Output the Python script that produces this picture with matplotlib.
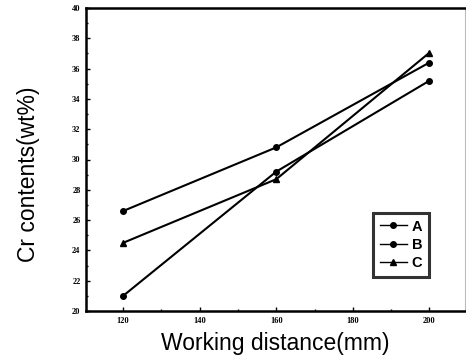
import matplotlib
matplotlib.use("Agg")
import matplotlib.pyplot as plt
from matplotlib.ticker import MultipleLocator

# values
distance = [120, 160, 200]
cr_a = [26.6, 30.8, 36.4]
cr_b = [21.0, 29.2, 35.2]
cr_c = [24.5, 28.7, 37.05]
series_names = ["A", "B", "C"]

plt.rcParams['font.family'] = ['Liberation Sans', 'DejaVu Sans']

fig = plt.figure(figsize=(4.66, 3.64), dpi=100)
ax = fig.add_axes([86/466, 1-311/364, (465-86)/466, (311-8)/364])

ax.plot(distance, cr_a, color='black', lw=1.5, marker='o', ms=4, label=series_names[0])
ax.plot(distance, cr_b, color='black', lw=1.5, marker='o', ms=4, label=series_names[1])
ax.plot(distance, cr_c, color='black', lw=1.5, marker='^', ms=4.5, label=series_names[2])

ax.set_xlim(110.3, 209.3)
ax.set_ylim(20, 40)
ax.xaxis.set_major_locator(MultipleLocator(20))
ax.xaxis.set_minor_locator(MultipleLocator(10))
ax.yaxis.set_major_locator(MultipleLocator(2))
ax.yaxis.set_minor_locator(MultipleLocator(1))
ax.tick_params(which='both', direction='in', width=1)
ax.tick_params(which='major', length=3, labelsize=6, pad=4)
ax.tick_params(which='minor', length=1.5)
for lab in ax.get_xticklabels() + ax.get_yticklabels():
    lab.set_fontweight('bold')
    lab.set_family('Liberation Serif')

for side in ['left', 'bottom', 'top']:
    ax.spines[side].set_linewidth(1.8)
ax.spines['right'].set_linewidth(0.8)
ax.spines['right'].set_color('#bbbbbb')

ax.set_xlabel('Working distance(mm)', fontsize=16.5, va='baseline')
ax.set_ylabel('Cr contents(wt%)', fontsize=16.5, va='center')
ax.xaxis.set_label_coords(0.5, -0.128)
ax.yaxis.set_label_coords(-0.153, 0.45)

leg = ax.legend(loc='upper left', bbox_to_anchor=(373/466, 1-213/364),
                bbox_transform=fig.transFigure, borderaxespad=0,
                fancybox=False, edgecolor='black', handlelength=1.9,
                handletextpad=0.3, labelspacing=0.3, borderpad=0.45,
                prop={'size': 10.5, 'weight': 'bold'})
leg.get_frame().set_linewidth(2.2)
for h in leg.get_lines():
    h.set_linewidth(1.0)

fig.savefig('out.png', dpi=100)
